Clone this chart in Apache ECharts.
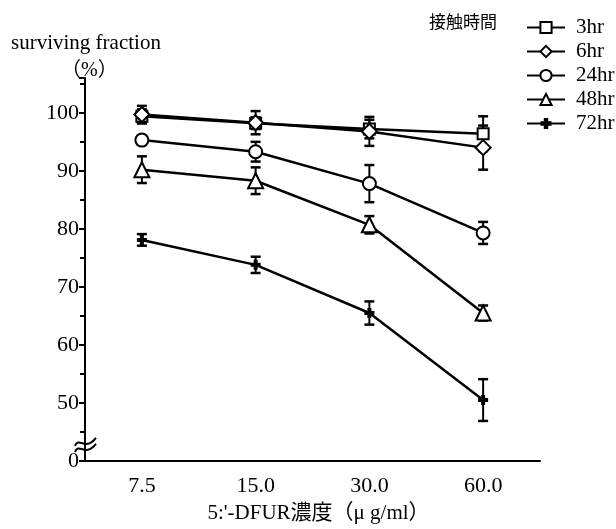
<!DOCTYPE html>
<html>
<head>
<meta charset="utf-8">
<script src="https://cdn.jsdelivr.net/npm/echarts@6/dist/echarts.min.js"></script>
<style>html,body{margin:0;padding:0;background:#fff}#c{width:616px;height:529px}</style>
</head>
<body>
<div id="c"></div>
<script>
const categories = ['7.5', '15.0', '30.0', '60.0'];
const seriesNames = ['3hr', '6hr', '24hr', '48hr', '72hr'];
const yTickLabels = {40: '0'};
const v3 = [99.4, 98.2, 97.2, 96.4];
const e3 = [1.2, 1.0, 1.6, 3.0];
const v6 = [99.7, 98.3, 96.8, 94.0];
const e6 = [1.5, 2.0, 2.5, 3.8];
const v24 = [95.3, 93.3, 87.8, 79.3];
const e24 = [0.8, 1.7, 3.2, 1.9];
const v48 = [90.2, 88.3, 80.7, 65.5];
const e48 = [2.3, 2.3, 1.5, 1.3];
const v72 = [78.1, 73.8, 65.5, 50.5];
const e72 = [1.0, 1.4, 2.0, 3.6];

const values = [v3, v6, v24, v48, v72];
const errors = [e3, e6, e24, e48, e72];
const symbols = ['rect', 'diamond', 'circle', 'triangle', 'path://M3,0H7V3H10V7H7V10H3V7H0V3H3Z'];
const symbolSizes = [11, 15, 13, 15, 10];
const SERIF = "'Liberation Serif', 'Noto Sans CJK JP'";

const chart = echarts.init(document.getElementById('c'), null, {renderer: 'canvas'});

const series = [];
values.forEach((vals, i) => {
  series.push({
    name: seriesNames[i] + '_err',
    type: 'custom',
    z: 1,
    silent: true,
    data: vals.map((v, j) => [j, v - errors[i][j], v + errors[i][j]]),
    renderItem: function (params, api) {
      const x = api.value(0);
      const lo = api.coord([x, api.value(1)]);
      const hi = api.coord([x, api.value(2)]);
      const hw = 5;
      const st = {stroke: '#000', lineWidth: 2};
      return {
        type: 'group',
        children: [
          {type: 'line', shape: {x1: lo[0], y1: lo[1], x2: hi[0], y2: hi[1]}, style: st},
          {type: 'line', shape: {x1: lo[0] - hw, y1: lo[1], x2: lo[0] + hw, y2: lo[1]}, style: {stroke: '#000', lineWidth: 2.5}},
          {type: 'line', shape: {x1: hi[0] - hw, y1: hi[1], x2: hi[0] + hw, y2: hi[1]}, style: {stroke: '#000', lineWidth: 2.5}}
        ]
      };
    }
  });
});
values.forEach((vals, i) => {
  const filled = i === 4;
  series.push({
    name: seriesNames[i],
    type: 'line',
    z: 3,
    data: vals,
    symbol: symbols[i],
    symbolSize: symbolSizes[i],
    showAllSymbol: true,
    lineStyle: {color: '#000', width: 2.5},
    itemStyle: {color: filled ? '#000' : '#fff', borderColor: '#000', borderWidth: filled ? 0 : 2},
    emphasis: {disabled: true},
    animation: false
  });
});

chart.setOption({
  animation: false,
  backgroundColor: '#fff',
  textStyle: {fontFamily: SERIF, color: '#000'},
  title: [
    {text: 'surviving fraction', left: 6, top: 28, textStyle: {fontFamily: SERIF, fontSize: 21, fontWeight: 'normal', color: '#000'}},
    {text: '（%）', left: 56, top: 56, textStyle: {fontFamily: SERIF, fontSize: 20, fontWeight: 'normal', color: '#000'}},
    {text: '接触時間', left: 424, top: 8, textStyle: {fontFamily: "'Noto Sans CJK JP'", fontSize: 17, fontWeight: 'normal', color: '#000'}}
  ],
  legend: {
    data: seriesNames,
    orient: 'vertical',
    left: 521,
    top: 12,
    itemWidth: 38,
    itemHeight: 14,
    itemGap: 3,
    selectedMode: false,
    textStyle: {fontFamily: SERIF, fontSize: 21, color: '#000', padding: [0, 0, 0, 6]}
  },
  grid: {left: 85, right: 76, top: 78, bottom: 67, containLabel: false},
  xAxis: {
    type: 'category',
    data: categories,
    boundaryGap: true,
    name: "5:'-DFUR濃度（μ g/ml）",
    nameLocation: 'middle',
    nameGap: 42,
    nameTextStyle: {fontFamily: SERIF, fontSize: 21, color: '#000', padding: [0, 0, 0, 12]},
    axisLine: {lineStyle: {color: '#000', width: 2}},
    axisTick: {alignWithLabel: true, length: 5, lineStyle: {color: '#000', width: 2}},
    axisLabel: {fontFamily: SERIF, fontSize: 22, color: '#000', margin: 14},
    splitLine: {show: false}
  },
  yAxis: {
    type: 'value',
    min: 40,
    max: 106,
    interval: 10,
    axisLine: {show: true, lineStyle: {color: '#000', width: 2}},
    axisTick: {show: true, length: 6, lineStyle: {color: '#000', width: 2}},
    minorTick: {show: true, splitNumber: 2, length: 5, lineStyle: {color: '#000', width: 2}},
    axisLabel: {fontFamily: SERIF, fontSize: 22, color: '#000', margin: 6, showMaxLabel: false,
      formatter: v => (yTickLabels[v] !== undefined ? yTickLabels[v] : (v % 10 === 0 ? String(v) : ''))},
    splitLine: {show: false}
  },
  series: series
});

// axis break symbol drawn at the axis position via the library's scale
const bp = chart.convertToPixel({xAxisIndex: 0, yAxisIndex: 0}, [0, 42.6]);
chart.setOption({
  graphic: [{
    type: 'group',
    x: 85, y: bp[1],
    children: [
      {type: 'rect', shape: {x: -3, y: -6, width: 6, height: 8}, style: {fill: '#fff'}},
      {type: 'bezierCurve', shape: {x1: -10, y1: 0, cpx1: -6, cpy1: -10, cpx2: 0, cpy2: 6, x2: 11, y2: -8}, style: {stroke: '#000', lineWidth: 2, fill: null}},
      {type: 'bezierCurve', shape: {x1: -10, y1: 6, cpx1: -6, cpy1: -4, cpx2: 0, cpy2: 12, x2: 11, y2: -2}, style: {stroke: '#000', lineWidth: 2, fill: null}}
    ]
  }]
});
</script>
</body>
</html>
